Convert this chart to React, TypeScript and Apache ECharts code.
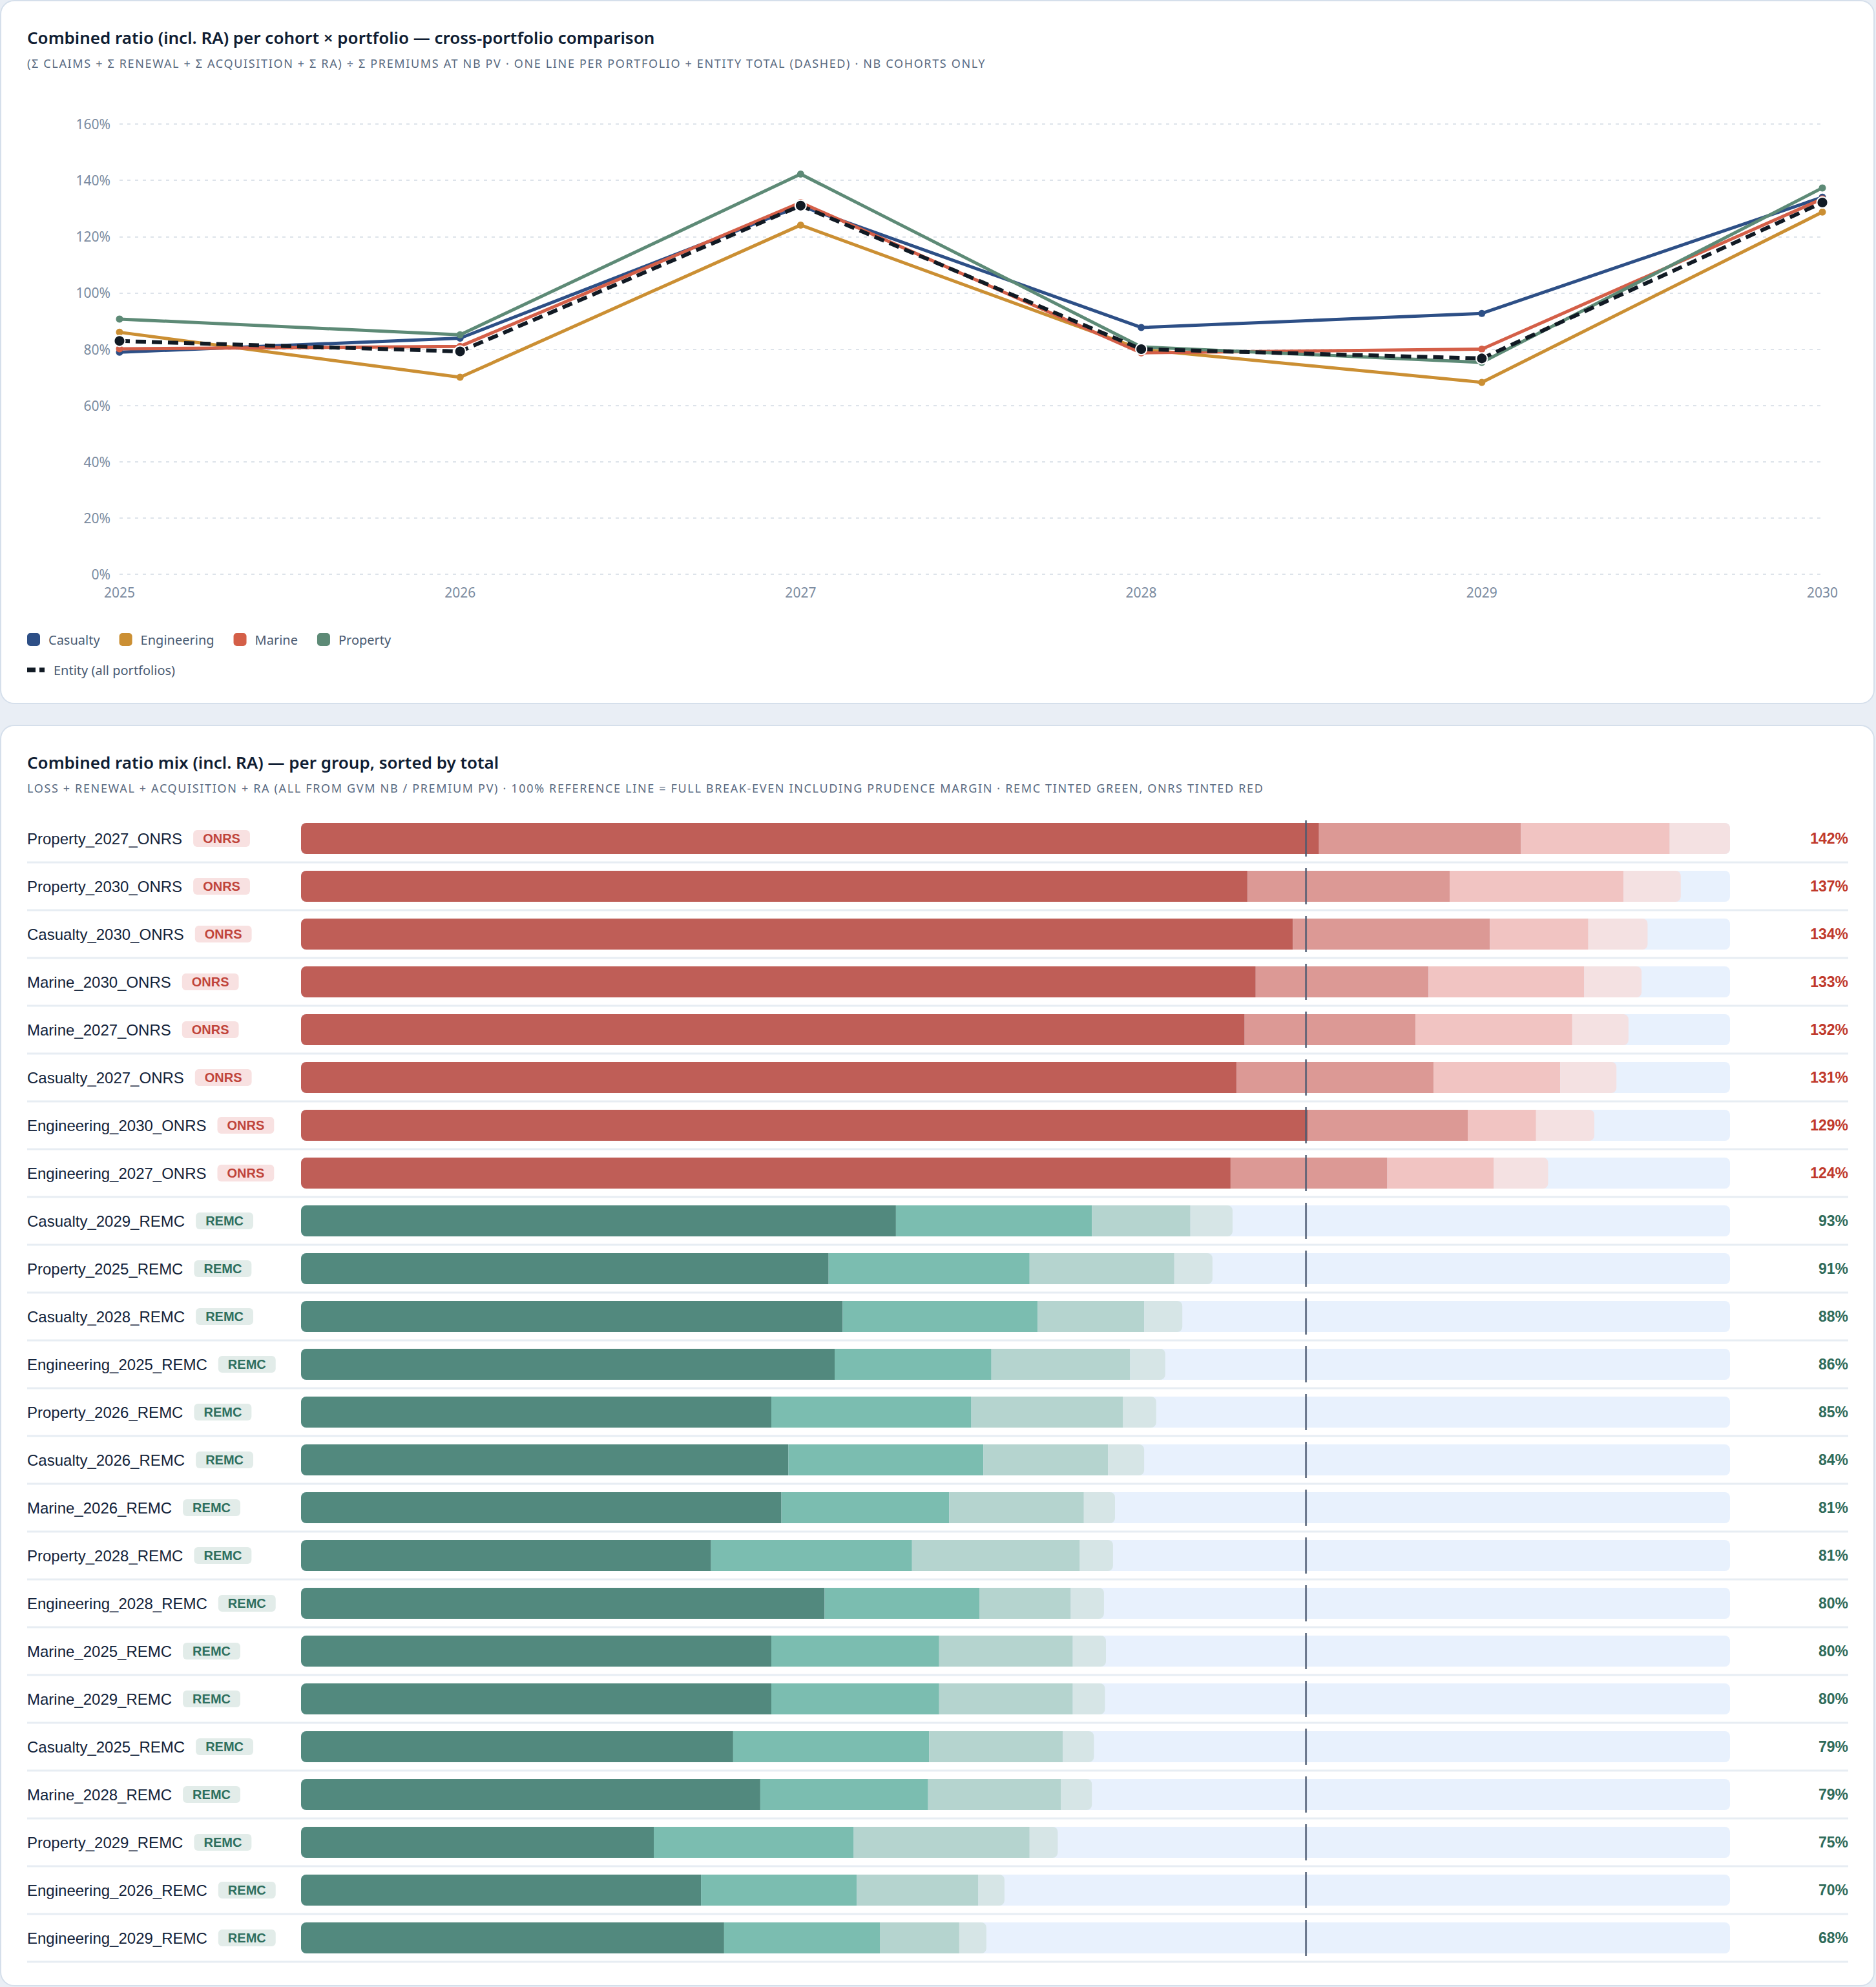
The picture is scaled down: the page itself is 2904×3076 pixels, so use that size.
import React, { useEffect, useRef } from 'react';
import * as echarts from 'echarts';

// ---- Combined ratio per cohort × portfolio (%, incl. RA) ----
const cohortYears = ['2025', '2026', '2027', '2028', '2029', '2030'];
const casualtyRatio = [78.9, 83.9, 130.9, 87.7, 92.7, 134.0];
const engineeringRatio = [86.0, 70.0, 124.1, 79.9, 68.2, 128.7];
const marineRatio = [80.1, 81.0, 132.1, 78.7, 80.0, 133.4];
const propertyRatio = [90.7, 85.1, 142.2, 80.8, 75.3, 137.3];
const entityRatio = [82.9, 79.2, 131.0, 80.0, 76.7, 132.1];
const yTicks = { min: 0, max: 160, interval: 20 };

// ---- Combined ratio mix per group, sorted by total (%) ----
const groupNames = [
  'Property_2027_ONRS', 'Property_2030_ONRS', 'Casualty_2030_ONRS', 'Marine_2030_ONRS',
  'Marine_2027_ONRS', 'Casualty_2027_ONRS', 'Engineering_2030_ONRS', 'Engineering_2027_ONRS',
  'Casualty_2029_REMC', 'Property_2025_REMC', 'Casualty_2028_REMC', 'Engineering_2025_REMC',
  'Property_2026_REMC', 'Casualty_2026_REMC', 'Marine_2026_REMC', 'Property_2028_REMC',
  'Engineering_2028_REMC', 'Marine_2025_REMC', 'Marine_2029_REMC', 'Casualty_2025_REMC',
  'Marine_2028_REMC', 'Property_2029_REMC', 'Engineering_2026_REMC', 'Engineering_2029_REMC',
];
const groupStatus = [
  'ONRS', 'ONRS', 'ONRS', 'ONRS', 'ONRS', 'ONRS', 'ONRS', 'ONRS',
  'REMC', 'REMC', 'REMC', 'REMC', 'REMC', 'REMC', 'REMC', 'REMC',
  'REMC', 'REMC', 'REMC', 'REMC', 'REMC', 'REMC', 'REMC', 'REMC',
];
const lossRatio = [101.3, 94.2, 98.7, 95.0, 93.9, 93.1, 100.2, 92.5, 59.2, 52.5, 53.9, 53.1, 46.8, 48.5, 47.8, 40.8, 52.1, 46.8, 46.8, 43.0, 45.7, 35.1, 39.8, 42.1];
const renewalRatio = [20.1, 20.1, 19.6, 17.2, 17.0, 19.6, 15.9, 15.6, 19.5, 20.0, 19.4, 15.6, 19.9, 19.4, 16.7, 20.0, 15.4, 16.7, 16.7, 19.5, 16.7, 19.9, 15.5, 15.5];
const acquisitionRatio = [14.8, 17.3, 9.8, 15.5, 15.6, 12.6, 6.8, 10.6, 9.8, 14.4, 10.6, 13.8, 15.1, 12.4, 13.4, 16.7, 9.1, 13.3, 13.3, 13.3, 13.2, 17.5, 12.1, 7.9];
const raRatio = [6.0, 5.7, 5.9, 5.7, 5.6, 5.6, 5.8, 5.4, 4.2, 3.8, 3.8, 3.5, 3.3, 3.6, 3.1, 3.3, 3.3, 3.3, 3.2, 3.1, 3.1, 2.8, 2.6, 2.7];
const breakEven = 100;

const LINE_TITLE = 'Combined ratio (incl. RA) per cohort × portfolio — cross-portfolio comparison';
const LINE_SUBTITLE =
  '(Σ CLAIMS + Σ RENEWAL + Σ ACQUISITION + Σ RA) ÷ Σ PREMIUMS AT NB PV · ONE LINE PER PORTFOLIO + ENTITY TOTAL (DASHED) · NB COHORTS ONLY';
const BAR_TITLE = 'Combined ratio mix (incl. RA) — per group, sorted by total';
const BAR_SUBTITLE =
  'LOSS + RENEWAL + ACQUISITION + RA (ALL FROM GVM NB / PREMIUM PV) · 100% REFERENCE LINE = FULL BREAK-EVEN INCLUDING PRUDENCE MARGIN · REMC TINTED GREEN, ONRS TINTED RED';

const TITLE_FONT = '"Noto Sans", "Liberation Sans", Arial, sans-serif';
const LABEL_FONT = '"Liberation Sans", Arial, sans-serif';

const portfolioColors: Record<string, string> = {
  Casualty: '#2d4f86',
  Engineering: '#cb8f33',
  Marine: '#d45f48',
  Property: '#5d8a76',
};

const tints: Record<string, { loss: string; renewal: string; acquisition: string; ra: string; text: string; badgeBg: string; badgeText: string }> = {
  ONRS: { loss: '#bf5e57', renewal: '#dc9995', acquisition: '#f1c4c2', ra: '#f4e1e2', text: '#c0392b', badgeBg: '#f8e1e1', badgeText: '#c0443a' },
  REMC: { loss: '#52897e', renewal: '#7bbdb0', acquisition: '#b5d4cf', ra: '#d6e5e6', text: '#2f6b5a', badgeBg: '#e2ece9', badgeText: '#2e6f5e' },
};

function titleBlock(main: string, sub: string) {
  return [
    {
      text: main,
      left: 40,
      top: 40,
      padding: 0,
      textStyle: { fontSize: 26, fontWeight: 600, color: '#0f1d33', fontFamily: TITLE_FONT, lineHeight: 32 },
    },
    {
      text: sub,
      left: 40,
      top: 84,
      padding: 0,
      textStyle: { fontSize: 18, fontWeight: 400, color: '#5a6b82', fontFamily: TITLE_FONT, lineHeight: 24 },
    },
  ];
}

// Upper-case subtitles are tracked out a little, like small caps captions.
function trackSubtitles(chart: echarts.ECharts) {
  const dom = chart.getDom();
  dom.querySelectorAll('text').forEach((t) => {
    const s = t.textContent || '';
    if (s === LINE_SUBTITLE || s === BAR_SUBTITLE) {
      (t as SVGTextElement).style.letterSpacing = '1.65px';
    }
  });
}

function buildLineOption() {
  const portfolios: [string, number[]][] = [
    ['Casualty', casualtyRatio],
    ['Engineering', engineeringRatio],
    ['Marine', marineRatio],
    ['Property', propertyRatio],
  ];
  const series: any[] = portfolios.map(([name, values]) => ({
    name,
    type: 'line',
    data: values,
    symbol: 'circle',
    symbolSize: 11,
    lineStyle: { width: 5, color: portfolioColors[name] },
    itemStyle: { color: portfolioColors[name] },
    z: 3,
  }));
  series.push({
    name: 'Entity (all portfolios)',
    type: 'line',
    data: entityRatio,
    symbol: 'circle',
    symbolSize: 17,
    lineStyle: { width: 6, color: '#111a24', type: [16, 9] },
    itemStyle: { color: '#111a24', borderColor: '#ffffff', borderWidth: 2 },
    z: 5,
  });
  return {
    animation: false,
    textStyle: { fontFamily: TITLE_FONT },
    title: titleBlock(LINE_TITLE, LINE_SUBTITLE),
    grid: { left: 183, right: 79, top: 190, bottom: 199 },
    xAxis: {
      type: 'category',
      data: cohortYears,
      boundaryGap: false,
      axisLine: { show: false },
      axisTick: { show: false },
      axisLabel: { fontSize: 21, color: '#7b8ba0', margin: 17, fontFamily: TITLE_FONT },
    },
    yAxis: {
      type: 'value',
      min: yTicks.min,
      max: yTicks.max,
      interval: yTicks.interval,
      axisLine: { show: false },
      axisTick: { show: false },
      axisLabel: { formatter: '{value}%', fontSize: 21, color: '#7b8ba0', margin: 14, fontFamily: TITLE_FONT },
      splitLine: { lineStyle: { color: '#dde3ea', width: 2, type: [5, 7] } },
    },
    legend: [
      {
        data: portfolios.map(([n]) => n),
        left: 40,
        top: 976,
        padding: 0,
        icon: 'roundRect',
        itemWidth: 20,
        itemHeight: 20,
        itemGap: 30,
        itemStyle: { borderWidth: 0 },
        textStyle: { fontSize: 20, color: '#4a5b72', padding: [0, 0, 0, 8], lineHeight: 24, fontFamily: TITLE_FONT },
      },
      {
        data: ['Entity (all portfolios)'],
        left: 40,
        top: 1023,
        padding: 0,
        icon: 'path://M0,0H13V7H0Z M19,0H27V7H19Z',
        itemWidth: 27,
        itemHeight: 7,
        itemStyle: { borderWidth: 0, color: '#111a24' },
        textStyle: { fontSize: 20, color: '#4a5b72', padding: [0, 0, 0, 9], lineHeight: 24, fontFamily: TITLE_FONT },
      },
    ],
    series,
  };
}

function buildBarOption() {
  const totals = groupNames.map((_, i) =>
    Math.round((lossRatio[i] + renewalRatio[i] + acquisitionRatio[i] + raRatio[i]) * 10) / 10
  );
  const trackMax = Math.max(...totals);
  const segment = (values: number[], key: 'loss' | 'renewal' | 'acquisition' | 'ra') =>
    values.map((v, i) => ({ value: v, itemStyle: { color: tints[groupStatus[i]][key] } }));

  const barCommon = { type: 'bar', barWidth: 48, barGap: '-100%', yAxisIndex: 0 };
  const badge = (key: 'ONRS' | 'REMC') => ({
    fontSize: 20,
    fontWeight: 'bold',
    color: tints[key].badgeText,
    backgroundColor: tints[key].badgeBg,
    borderRadius: 6,
    padding: [3, 15, 3, 15],
    fontFamily: LABEL_FONT,
    verticalAlign: 'middle',
  });

  return {
    animation: false,
    textStyle: { fontFamily: LABEL_FONT },
    title: titleBlock(BAR_TITLE, BAR_SUBTITLE),
    grid: { left: 464, right: 222, top: 137, bottom: 36 },
    xAxis: { type: 'value', min: 0, max: trackMax, show: false },
    yAxis: [
      {
        type: 'category',
        data: groupNames,
        inverse: true,
        axisLine: { show: false },
        axisTick: { show: false },
        splitLine: { show: false },
        axisLabel: {
          align: 'left',
          margin: 424,
          formatter: (value: string, index: number) => {
            const s = groupStatus[index];
            return `{name|${value}}{gap| }{${s === 'ONRS' ? 'onrs' : 'remc'}|${s}}`;
          },
          rich: {
            name: { fontSize: 24, color: '#13233a', fontFamily: LABEL_FONT, verticalAlign: 'middle' },
            gap: { width: 17, fontSize: 12 },
            onrs: badge('ONRS'),
            remc: badge('REMC'),
          },
        },
      },
      {
        type: 'category',
        data: groupNames,
        inverse: true,
        position: 'right',
        axisLine: { show: false },
        axisTick: { show: false },
        splitLine: { show: false },
        axisLabel: {
          align: 'right',
          margin: 183,
          formatter: (_v: string, index: number) =>
            `{${groupStatus[index] === 'ONRS' ? 'hot' : 'cool'}|${Math.round(totals[index])}%}`,
          rich: {
            hot: { fontSize: 23, fontWeight: 'bold', color: tints.ONRS.text, fontFamily: LABEL_FONT },
            cool: { fontSize: 23, fontWeight: 'bold', color: tints.REMC.text, fontFamily: LABEL_FONT },
          },
        },
      },
    ],
    series: [
      {
        type: 'custom',
        name: 'row rules',
        silent: true,
        clip: false,
        z: 0,
        encode: { x: 0, y: 1 },
        data: groupNames.map((_, i) => [0, i]),
        renderItem: (_params: any, api: any) => {
          const y = api.coord([0, api.value(1)])[1] + api.size([0, 1])[1] / 2;
          return {
            type: 'line',
            shape: { x1: 40, y1: y, x2: 2859, y2: y },
            style: { stroke: '#e7edf3', lineWidth: 3 },
          };
        },
      },
      {
        ...barCommon,
        name: 'track',
        silent: true,
        z: 1,
        data: totals.map(() => trackMax),
        itemStyle: { color: '#e8f1fd', borderRadius: 8 },
      },
      {
        ...barCommon, name: 'Loss', stack: 'mix', z: 2,
        data: segment(lossRatio, 'loss').map((d) => ({ ...d, itemStyle: { ...d.itemStyle, borderRadius: [8, 0, 0, 8] } })),
      },
      { ...barCommon, name: 'Renewal', stack: 'mix', z: 2, data: segment(renewalRatio, 'renewal') },
      { ...barCommon, name: 'Acquisition', stack: 'mix', z: 2, data: segment(acquisitionRatio, 'acquisition') },
      {
        ...barCommon, name: 'RA', stack: 'mix', z: 2,
        data: segment(raRatio, 'ra').map((d) => ({ ...d, itemStyle: { ...d.itemStyle, borderRadius: [0, 8, 8, 0] } })),
      },
      {
        type: 'scatter',
        name: 'Break-even',
        silent: true,
        z: 4,
        symbol: 'rect',
        symbolSize: [3, 56],
        itemStyle: { color: '#4b5a70' },
        data: groupNames.map((_, i) => [breakEven, i]),
      },
    ],
  };
}

export default function App() {
  const lineRef = useRef<HTMLDivElement>(null);
  const barRef = useRef<HTMLDivElement>(null);

  useEffect(() => {
    document.body.style.margin = '0';
    const lineChart = echarts.init(lineRef.current as HTMLDivElement, null, { renderer: 'svg' });
    const barChart = echarts.init(barRef.current as HTMLDivElement, null, { renderer: 'svg' });
    lineChart.on('finished', () => trackSubtitles(lineChart));
    barChart.on('finished', () => trackSubtitles(barChart));
    lineChart.setOption(buildLineOption() as any);
    barChart.setOption(buildBarOption() as any);
    trackSubtitles(lineChart);
    trackSubtitles(barChart);
    const timer = window.setTimeout(() => {
      trackSubtitles(lineChart);
      trackSubtitles(barChart);
    }, 50);
    return () => {
      window.clearTimeout(timer);
      lineChart.dispose();
      barChart.dispose();
    };
  }, []);

  const card: React.CSSProperties = {
    position: 'absolute',
    left: 0,
    width: 2902,
    boxSizing: 'border-box',
    border: '2px solid #d5dfeb',
    borderRadius: 22,
    background: '#ffffff',
    overflow: 'hidden',
  };

  return (
    <div style={{ position: 'absolute', left: 0, top: 0, width: 2904, height: 3076, background: '#e9eef5', overflow: 'hidden' }}>
      <div style={{ ...card, top: 0, height: 1090 }}>
        <div ref={lineRef} style={{ width: 2898, height: 1086 }} />
      </div>
      <div style={{ ...card, top: 1122, height: 1953 }}>
        <div ref={barRef} style={{ width: 2898, height: 1949 }} />
      </div>
    </div>
  );
}
